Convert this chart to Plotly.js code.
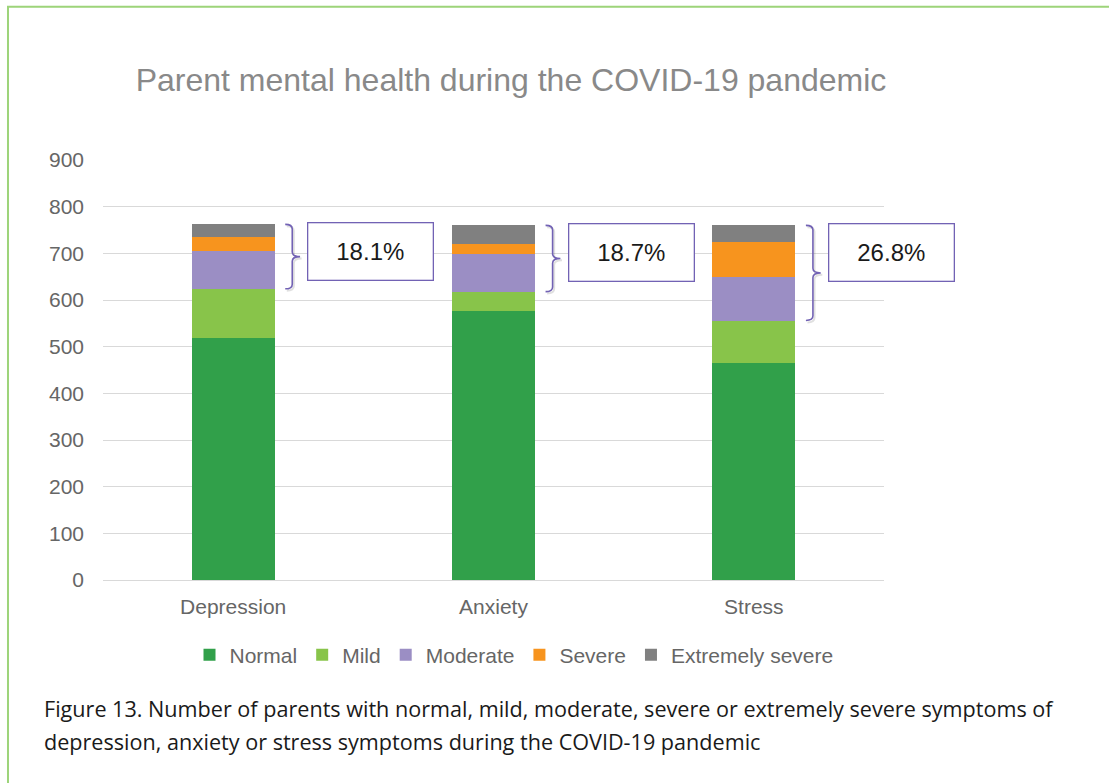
<!DOCTYPE html>
<html>
<head>
<meta charset="utf-8">
<script src="https://cdn.plot.ly/plotly-3.0.1.min.js"></script>
<style>
  html, body { margin: 0; padding: 0; background: #ffffff; }
  #chart { width: 1109px; height: 783px; }
</style>
</head>
<body>
<div id="chart"></div>
<script>
// Parent mental health (DASS categories) during the COVID-19 pandemic
const categories = ['Depression', 'Anxiety', 'Stress'];
const normal     = [518, 577, 464];
const mild       = [106, 41, 92];
const moderate   = [80, 81, 93];
const severe     = [31, 22, 75];
const extreme    = [27, 39, 36];
const yTicks     = [0, 100, 200, 300, 400, 500, 600, 700, 800, 900];

const seriesNames  = ['Normal', 'Mild', 'Moderate', 'Severe', 'Extremely severe'];
const seriesValues = [normal, mild, moderate, severe, extreme];
const seriesColors = ['#31a04a', '#88c44a', '#9b8ec4', '#f7941e', '#808080'];

const xPos = categories.map((_, i) => i);

const traces = seriesNames.map((name, k) => ({
  type: 'bar',
  name: name,
  x: xPos,
  y: seriesValues[k],
  marker: { color: seriesColors[k], line: { width: 0 } },
  width: 0.32,
  hoverinfo: 'name+y'
}));

// Moderate-or-worse share per category, bracketed beside each bar
const totals = xPos.map(i => seriesValues.reduce((s, arr) => s + arr[i], 0));
const upper  = xPos.map(i => moderate[i] + severe[i] + extreme[i]);
const pct    = xPos.map(i => (100 * upper[i] / totals[i]).toFixed(1) + '%');

const braceColor = '#7262b4';
function bracePath(i, dx, dy) {
  const xb = i + 0.2 + dx;        // brace ends
  const xs = xb + 0.027;          // brace spine
  const xt = xs + 0.03;           // brace tip
  const y0 = normal[i] + mild[i] + dy;
  const y1 = totals[i] + dy;
  const ym = (y0 + y1) / 2;
  const r = 10;
  return `M${xb},${y1} Q${xs},${y1} ${xs},${y1 - r} L${xs},${ym + r} ` +
         `Q${xs},${ym} ${xt},${ym} Q${xs},${ym} ${xs},${ym - r} ` +
         `L${xs},${y0 + r} Q${xs},${y0} ${xb},${y0}`;
}

const shapes = [];
xPos.forEach(i => {
  shapes.push({ type: 'path', xref: 'x', yref: 'y', path: bracePath(i, 0.006, -4),
                line: { color: 'rgba(0,0,0,0.12)', width: 2 } });
  shapes.push({ type: 'path', xref: 'x', yref: 'y', path: bracePath(i, 0, 0),
                line: { color: braceColor, width: 1.6 } });
});
// Page frame (top and left rules)
shapes.push({ type: 'path', xref: 'paper', yref: 'paper', layer: 'above',
              path: 'M0.0072,0 L0.0072,0.9915 L1,0.9915',
              line: { color: '#9dd47a', width: 2 } });

const annotations = xPos.map(i => ({
  x: i + 0.285, y: totals[i], xref: 'x', yref: 'y',
  xanchor: 'left', yanchor: 'top', yshift: 2,
  text: pct[i], showarrow: false,
  width: 124, height: 56,
  bordercolor: braceColor, borderwidth: 1.3, borderpad: 0,
  bgcolor: '#ffffff',
  font: { family: 'Liberation Sans, Arial, sans-serif', size: 24, color: '#1a1a1a' }
}));

const captionFont = { family: 'Open Sans, Noto Sans, sans-serif', size: 21.6, color: '#1a1a1a' };
annotations.push({
  xref: 'paper', yref: 'paper', x: 0.0379, y: 1 - 708 / 783,
  xanchor: 'left', yanchor: 'middle', showarrow: false, align: 'left',
  text: 'Figure 13. Number of parents with normal, mild, moderate, severe or extremely severe symptoms of',
  font: captionFont
});
annotations.push({
  xref: 'paper', yref: 'paper', x: 0.0379, y: 1 - 741 / 783,
  xanchor: 'left', yanchor: 'middle', showarrow: false, align: 'left',
  text: 'depression, anxiety or stress symptoms during the COVID-19 pandemic',
  font: captionFont
});

const axisFont = { family: 'Liberation Sans, Arial, sans-serif', size: 21, color: '#666666' };

const layout = {
  width: 1109, height: 783,
  margin: { l: 0, r: 0, t: 0, b: 0 },
  paper_bgcolor: '#ffffff', plot_bgcolor: '#ffffff',
  barmode: 'stack',
  title: {
    text: 'Parent mental health during the COVID-19 pandemic',
    x: 511 / 1109, xanchor: 'center', xref: 'paper',
    y: 1 - 80 / 783, yanchor: 'middle', yref: 'paper',
    font: { family: 'Liberation Sans, Arial, sans-serif', size: 32, color: '#898989' }
  },
  xaxis: {
    domain: [103 / 1109, 884 / 1109],
    range: [-0.5, 2.5],
    tickmode: 'array', tickvals: xPos, ticktext: categories,
    showgrid: false, zeroline: false, showline: false, ticks: '',
    ticklabelstandoff: 12,
    tickfont: axisFont, fixedrange: true
  },
  yaxis: {
    domain: [1 - 580 / 783, 1 - 160 / 783],
    range: [0, 900],
    tickmode: 'array', tickvals: yTicks,
    showgrid: true, gridcolor: '#d9d9d9', gridwidth: 1,
    zeroline: true, zerolinecolor: '#d9d9d9', zerolinewidth: 1,
    showline: false, ticks: '',
    ticklabelstandoff: 18,
    tickfont: axisFont, fixedrange: true
  },
  showlegend: true,
  legend: {
    orientation: 'h', x: 514 / 1109, xanchor: 'center',
    y: 1 - 655 / 783, yanchor: 'middle',
    font: { family: 'Liberation Sans, Arial, sans-serif', size: 21, color: '#666666' },
    itemwidth: 30, traceorder: 'normal',
    bgcolor: 'rgba(0,0,0,0)'
  },
  shapes: shapes,
  annotations: annotations,
  bargap: 0.68
};

Plotly.newPlot('chart', traces, layout, { displayModeBar: false, staticPlot: true });
</script>
</body>
</html>
